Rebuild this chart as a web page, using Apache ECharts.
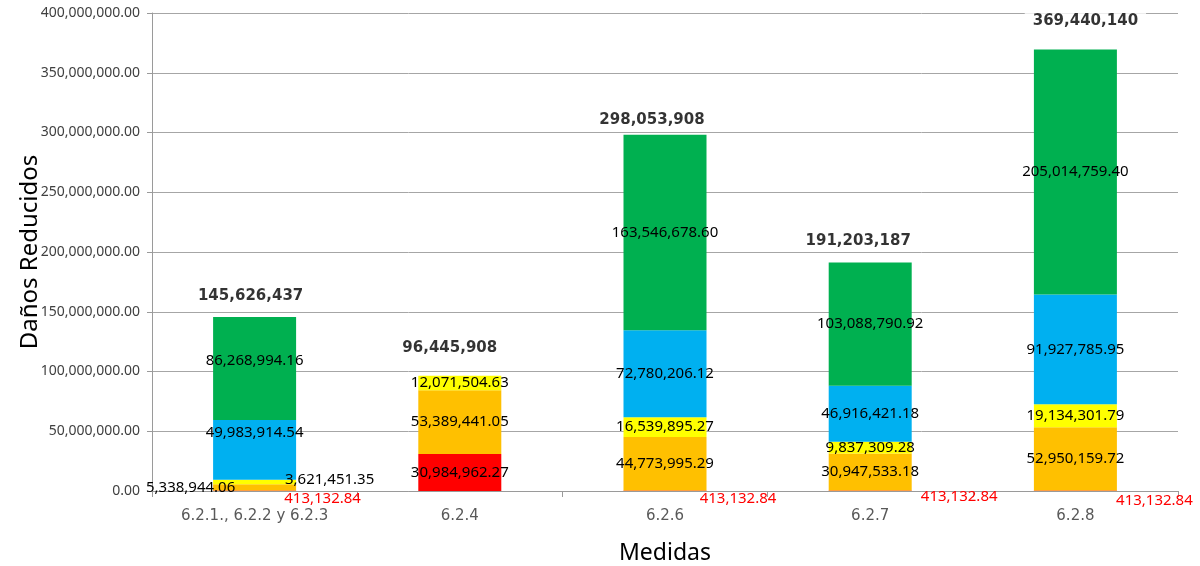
<!DOCTYPE html>
<html>
<head>
<meta charset="utf-8">
<script src="https://cdn.jsdelivr.net/npm/echarts@6/dist/echarts.min.js"></script>
<style>
html,body{margin:0;padding:0;background:#fff;}
#chart{width:1200px;height:566px;}
</style>
</head>
<body>
<div id="chart"></div>
<script>
var categories = ['6.2.1., 6.2.2 y 6.2.3', '6.2.4', '6.2.6', '6.2.7', '6.2.8'];
var redValues = [413132.84, 30984962.27, 413132.84, 413132.84, 413132.84];
var orangeValues = [5338944.06, 53389441.05, 44773995.29, 30947533.18, 52950159.72];
var yellowValues = [3621451.35, 12071504.63, 16539895.27, 9837309.28, 19134301.79];
var blueValues = [49983914.54, null, 72780206.12, 46916421.18, 91927785.95];
var greenValues = [86268994.16, null, 163546678.60, 103088790.92, 205014759.40];
var totalLabels = [145626437, 96445908, 298053908, 191203187, 369440140];

function fmt2(v) {
  return Number(v).toLocaleString('en-US', {minimumFractionDigits: 2, maximumFractionDigits: 2});
}
function fmt0(v) {
  return Number(v).toLocaleString('en-US', {maximumFractionDigits: 0});
}

// label shifts (pixels) per series, per category — layout only
var shifts = {
  Rojo: [[68, 8], null, [73, 8], [89, 6], [79, 10]],
  Naranja: [[-64, 0]],
  Amarillo: [[75, -2]],
  Azul: [[0, -17]],
  Verde: [[0, -8]]
};
var redOutside = [true, false, true, true, true];

function mkSeries(name, color, values) {
  var s = shifts[name] || [];
  return {
    name: name,
    type: 'bar',
    stack: 'total',
    barWidth: 83,
    itemStyle: {color: color},
    label: {
      show: true,
      position: 'inside',
      fontFamily: 'Noto Sans',
      fontSize: 15,
      color: '#000',
      formatter: function (p) { return fmt2(p.value); }
    },
    labelLayout: function (p) {
      var d = s[p.dataIndex];
      return d ? {dx: d[0], dy: d[1], hideOverlap: false} : {hideOverlap: false};
    },
    data: values.map(function (v, i) {
      var item = {value: v};
      if (name === 'Rojo' && redOutside[i]) item.label = {color: '#ff0000'};
      return item;
    })
  };
}

var totalShift = [[-4, -3], [-10, -10], [-13, 3], [-12, -4], [10, -11]];

var chart = echarts.init(document.getElementById('chart'), null, {renderer: 'canvas'});
chart.setOption({
  animation: false,
  backgroundColor: '#fff',
  grid: {left: 152, right: 22, top: 13, bottom: 75, containLabel: false, outerBoundsMode: 'none'},
  xAxis: {
    type: 'category',
    data: categories,
    name: 'Medidas',
    nameLocation: 'middle',
    nameGap: 51,
    nameMoveOverlap: false,
    nameTextStyle: {fontFamily: 'Noto Sans', fontSize: 23, color: '#000'},
    axisLine: {lineStyle: {color: '#9a9a9a', width: 1}},
    axisTick: {show: true, length: 6, lineStyle: {color: '#9a9a9a'}},
    axisLabel: {fontFamily: 'DejaVu Sans', fontSize: 15, color: '#595959', margin: 18}
  },
  yAxis: {
    type: 'value',
    min: 0,
    max: 400000000,
    interval: 50000000,
    name: 'Daños Reducidos',
    nameLocation: 'middle',
    nameGap: 110,
    nameMoveOverlap: false,
    nameTextStyle: {fontFamily: 'Noto Sans', fontSize: 24, color: '#000'},
    axisLine: {show: true, lineStyle: {color: '#9a9a9a', width: 1}},
    axisTick: {show: true, length: 5, lineStyle: {color: '#9a9a9a'}},
    splitLine: {lineStyle: {color: '#a6a6a6', width: 1}},
    axisLabel: {
      fontFamily: 'Noto Sans', fontSize: 14, color: '#404040', margin: 12,
      formatter: function (v) { return fmt2(v); }
    }
  },
  series: [
    mkSeries('Rojo', '#ff0000', redValues),
    mkSeries('Naranja', '#ffc000', orangeValues),
    mkSeries('Amarillo', '#ffff00', yellowValues),
    mkSeries('Azul', '#00b0f0', blueValues),
    mkSeries('Verde', '#00b050', greenValues),
    {
      name: 'Total',
      type: 'scatter',
      symbolSize: 0,
      z: 10,
      data: totalLabels.map(function (v, i) { return [i, v]; }),
      label: {
        show: true,
        position: 'top',
        distance: 8,
        fontFamily: 'DejaVu Sans',
        fontSize: 15,
        fontWeight: 'bold',
        color: '#000',
        backgroundColor: '#fff',
        padding: [2, 8],
        formatter: function (p) { return fmt0(p.value[1]); }
      },
      labelLayout: function (p) {
        var d = totalShift[p.dataIndex];
        return {dx: d[0], dy: d[1], hideOverlap: false};
      }
    }
  ]
});
</script>
</body>
</html>
